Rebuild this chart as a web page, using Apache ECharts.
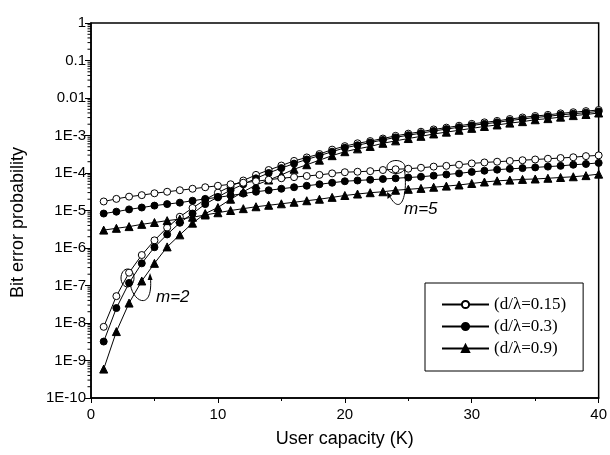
<!DOCTYPE html>
<html>
<head>
<meta charset="utf-8">
<script src="https://cdn.jsdelivr.net/npm/echarts@6/dist/echarts.min.js"></script>
<style>
  html, body { margin: 0; padding: 0; background: #fff; }
  #chart { width: 610px; height: 455px; }
</style>
</head>
<body>
<div id="chart"></div>
<script>
// user capacity K (x axis)
const capacity = [1, 2, 3, 4, 5, 6, 7, 8, 9, 10, 11, 12, 13, 14, 15, 16, 17, 18, 19, 20,
  21, 22, 23, 24, 25, 26, 27, 28, 29, 30, 31, 32, 33, 34, 35, 36, 37, 38, 39, 40];

// m = 2
const m2d015 = [7.9e-9, 5.2e-8, 2.2e-7, 6.5e-7, 1.6e-6, 3.5e-6, 6.8e-6, 1.17e-5, 1.95e-5, 3.0e-5,
  4.4e-5, 6.3e-5, 8.9e-5, 1.2e-4, 1.58e-4, 2.1e-4, 2.6e-4, 3.2e-4, 4.2e-4, 5.2e-4,
  6.2e-4, 7.1e-4, 8.3e-4, 9.8e-4, 1.12e-3, 1.26e-3, 1.45e-3, 1.62e-3, 1.82e-3, 2.04e-3,
  2.24e-3, 2.45e-3, 2.75e-3, 3.02e-3, 3.31e-3, 3.55e-3, 3.89e-3, 4.17e-3, 4.47e-3, 4.79e-3];
const m2d03 = [3.2e-9, 2.5e-8, 1.17e-7, 3.9e-7, 1.05e-6, 2.3e-6, 4.7e-6, 8.3e-6, 1.48e-5, 2.3e-5,
  3.5e-5, 5.0e-5, 7.2e-5, 1.0e-4, 1.35e-4, 1.78e-4, 2.3e-4, 2.9e-4, 3.7e-4, 4.7e-4,
  5.5e-4, 6.5e-4, 7.6e-4, 8.9e-4, 1.02e-3, 1.15e-3, 1.32e-3, 1.48e-3, 1.66e-3, 1.86e-3,
  2.04e-3, 2.24e-3, 2.51e-3, 2.75e-3, 3.02e-3, 3.24e-3, 3.55e-3, 3.8e-3, 4.07e-3, 4.37e-3];
const m2d09 = [5.9e-10, 5.9e-9, 3.4e-8, 1.32e-7, 3.9e-7, 1.07e-6, 2.24e-6, 4.6e-6, 8.3e-6, 1.2e-5,
  2.0e-5, 3.16e-5, 4.8e-5, 6.5e-5, 8.9e-5, 1.26e-4, 1.66e-4, 2.2e-4, 2.9e-4, 3.7e-4,
  4.4e-4, 5.1e-4, 6.2e-4, 7.2e-4, 8.3e-4, 9.5e-4, 1.1e-3, 1.23e-3, 1.38e-3, 1.55e-3,
  1.74e-3, 1.91e-3, 2.14e-3, 2.34e-3, 2.63e-3, 2.82e-3, 3.09e-3, 3.39e-3, 3.63e-3, 3.98e-3];

// m = 5
const m5d015 = [1.74e-5, 2.04e-5, 2.34e-5, 2.57e-5, 2.88e-5, 3.16e-5, 3.47e-5, 3.8e-5, 4.17e-5, 4.57e-5,
  5.01e-5, 5.5e-5, 6.03e-5, 6.61e-5, 7.24e-5, 7.76e-5, 8.32e-5, 8.91e-5, 9.77e-5, 1.05e-4,
  1.08e-4, 1.12e-4, 1.2e-4, 1.26e-4, 1.3e-4, 1.38e-4, 1.48e-4, 1.55e-4, 1.66e-4, 1.8e-4,
  1.91e-4, 2.0e-4, 2.09e-4, 2.19e-4, 2.29e-4, 2.4e-4, 2.51e-4, 2.63e-4, 2.82e-4, 2.95e-4];
const m5d03 = [8.3e-6, 9.3e-6, 1.07e-5, 1.2e-5, 1.35e-5, 1.48e-5, 1.62e-5, 1.82e-5, 2.04e-5, 2.24e-5,
  2.51e-5, 2.82e-5, 3.16e-5, 3.47e-5, 3.8e-5, 4.17e-5, 4.57e-5, 5.01e-5, 5.5e-5, 6.03e-5,
  6.31e-5, 6.61e-5, 6.92e-5, 7.24e-5, 7.59e-5, 7.94e-5, 8.51e-5, 9.12e-5, 9.77e-5, 1.07e-4,
  1.15e-4, 1.23e-4, 1.29e-4, 1.35e-4, 1.41e-4, 1.48e-4, 1.55e-4, 1.66e-4, 1.74e-4, 1.86e-4];
const m5d09 = [3.0e-6, 3.35e-6, 3.72e-6, 4.27e-6, 4.79e-6, 5.37e-6, 5.89e-6, 6.61e-6, 7.59e-6, 8.71e-6,
  1.0e-5, 1.12e-5, 1.26e-5, 1.38e-5, 1.51e-5, 1.66e-5, 1.82e-5, 2.0e-5, 2.24e-5, 2.51e-5,
  2.75e-5, 2.98e-5, 3.16e-5, 3.47e-5, 3.67e-5, 3.89e-5, 4.17e-5, 4.47e-5, 4.79e-5, 5.25e-5,
  5.75e-5, 6.17e-5, 6.46e-5, 6.76e-5, 6.92e-5, 7.24e-5, 7.59e-5, 7.94e-5, 8.51e-5, 9.33e-5];

const seriesNames = ['(d/λ=0.15)', '(d/λ=0.3)', '(d/λ=0.9)'];
// y tick labels, index = -exponent
const yTickLabels = ['1', '0.1', '0.01', '1E-3', '1E-4', '1E-5', '1E-6', '1E-7', '1E-8', '1E-9', '1E-10'];
const xTickLabels = ['0', '10', '20', '30', '40'];

// minor log ticks 2..9 in every decade
const minorTicks = [];
for (let e = -10; e < 0; e++) {
  for (let k = 2; k <= 9; k++) minorTicks.push(k * Math.pow(10, e));
}

const chart = echarts.init(document.getElementById('chart'));

const fontSans = 'Liberation Sans, Arial, sans-serif';

const styles = [
  { symbol: 'circle', size: 7, color: '#fff' },
  { symbol: 'circle', size: 7, color: '#000' },
  { symbol: 'triangle', size: 8, color: '#000' }
];

const makeSeries = (name, data, st) => ({
  name: name,
  type: 'line',
  data: data.map((v, i) => [capacity[i], v]),
  symbol: st.symbol,
  symbolSize: st.size,
  showAllSymbol: true,
  lineStyle: { color: '#000', width: 1 },
  itemStyle: { color: st.color, borderColor: '#000', borderWidth: 1 },
  animation: false
});

const option = {
  backgroundColor: '#fff',
  animation: false,
  grid: {
    left: 91, right: 7, top: 23, bottom: 57,
    show: true, borderColor: '#000', borderWidth: 1.5
  },
  legend: {
    data: seriesNames,
    orient: 'vertical',
    left: 425,
    top: 283,
    padding: [13, 17, 14, 16],
    itemWidth: 47,
    itemHeight: 9,
    itemGap: 5,
    borderColor: '#000',
    borderWidth: 1,
    textStyle: { fontFamily: 'Liberation Serif, Times New Roman, serif', fontSize: 17, color: '#000', lineHeight: 17 }
  },
  xAxis: {
    type: 'value',
    min: 0, max: 40, interval: 10,
    name: 'User capacity (K)',
    nameLocation: 'middle',
    nameGap: 32,
    nameTextStyle: { fontFamily: fontSans, fontSize: 18, color: '#000' },
    axisLine: { lineStyle: { color: '#000', width: 1.5 } },
    axisTick: { length: 5, lineStyle: { color: '#000' } },
    minorTick: { show: true, splitNumber: 2, length: 3, lineStyle: { color: '#000' } },
    splitLine: { show: false },
    axisLabel: {
      fontFamily: fontSans, fontSize: 15, color: '#000', margin: 9,
      formatter: (v) => xTickLabels[Math.round(v / 10)]
    }
  },
  yAxis: {
    type: 'log',
    logBase: 10,
    min: 1e-10, max: 1,
    interval: 1,
    splitNumber: 10,
    name: 'Bit error probability',
    nameLocation: 'middle',
    nameGap: 64,
    nameTextStyle: { fontFamily: fontSans, fontSize: 18, color: '#000', padding: [0, 24, 0, 0] },
    axisLine: { lineStyle: { color: '#000', width: 1.5 } },
    axisTick: { length: 6, lineStyle: { color: '#000' } },
    splitLine: { show: false },
    axisLabel: {
      fontFamily: fontSans, fontSize: 15, color: '#000', margin: 5,
      formatter: (v) => yTickLabels[-Math.round(Math.log10(v))]
    }
  },
  series: [
    makeSeries(seriesNames[0], m2d015, styles[0]),
    makeSeries(seriesNames[1], m2d03, styles[1]),
    makeSeries(seriesNames[2], m2d09, styles[2]),
    makeSeries(seriesNames[0], m5d015, styles[0]),
    makeSeries(seriesNames[1], m5d03, styles[1]),
    makeSeries(seriesNames[2], m5d09, styles[2]),
    {
      // minor log ticks on the y axis, placed through the axis scale
      name: 'minorTicks',
      type: 'custom',
      silent: true,
      clip: false,
      z: 5,
      data: minorTicks.map(v => [0, v]),
      renderItem: (params, api) => {
        const p = api.coord([0, api.value(1)]);
        return {
          type: 'line',
          shape: { x1: p[0] - 3.5, y1: p[1], x2: p[0], y2: p[1] },
          style: { stroke: '#000', lineWidth: 1 }
        };
      }
    }
  ],
  graphic: [
    // m=2 marker: ellipse + looping pointer
    { type: 'ellipse', shape: { cx: 127.5, cy: 278, rx: 6.5, ry: 9 }, style: { stroke: '#000', fill: null, lineWidth: 1 } },
    { type: 'bezierCurve', shape: { x1: 130.5, y1: 285, cpx1: 133, cpy1: 302, cpx2: 153, cpy2: 312, x2: 150.5, y2: 278 },
      style: { stroke: '#000', fill: null, lineWidth: 1 } },
    { type: 'polygon', shape: { points: [[150, 273], [147.6, 280], [152.6, 280]] }, style: { fill: '#000' } },
    { type: 'text', left: 156, top: 289, style: { text: 'm=2', font: 'italic 17px Liberation Sans, Arial, sans-serif', fill: '#000' } },
    // m=5 marker
    { type: 'ellipse', shape: { cx: 396, cy: 167, rx: 9, ry: 6.5 }, style: { stroke: '#000', fill: null, lineWidth: 1 } },
    { type: 'bezierCurve', shape: { x1: 404.5, y1: 170, cpx1: 408, cpy1: 195, cpx2: 401, cpy2: 218, x2: 389, y2: 195 },
      style: { stroke: '#000', fill: null, lineWidth: 1 } },
    { type: 'polygon', shape: { points: [[387, 192], [387.5, 199], [392, 195.5]] }, style: { fill: '#000' } },
    { type: 'text', left: 404, top: 201, style: { text: 'm=5', font: 'italic 17px Liberation Sans, Arial, sans-serif', fill: '#000' } }
  ]
};

chart.setOption(option);
</script>
</body>
</html>
